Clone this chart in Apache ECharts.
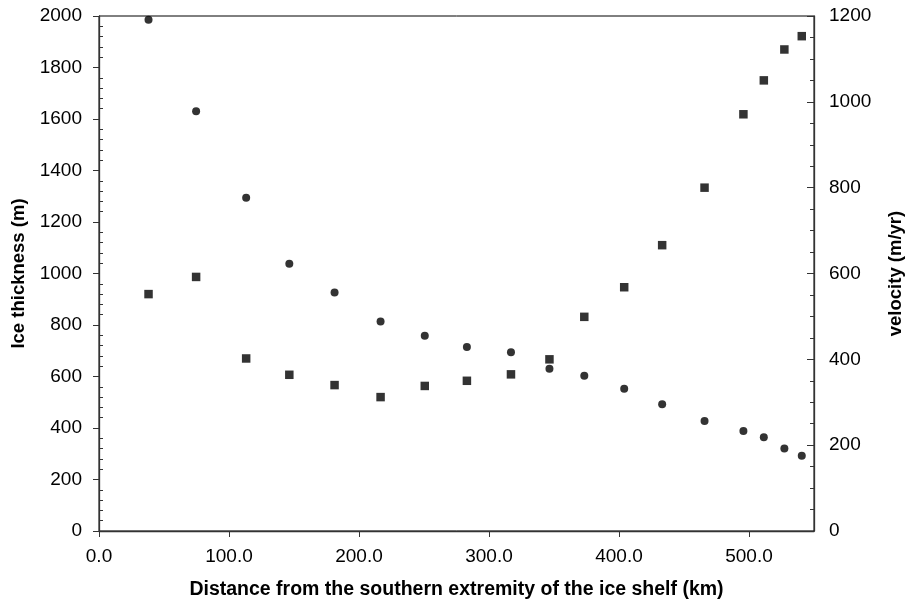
<!DOCTYPE html>
<html>
<head>
<meta charset="utf-8">
<script src="https://cdn.jsdelivr.net/npm/echarts@6/dist/echarts.min.js"></script>
<style>
  html, body { margin: 0; padding: 0; background: #fff; }
  #chart { width: 908px; height: 609px; }
</style>
</head>
<body>
<div id="chart"></div>
<script>
// distance from the southern extremity (km)
const distance = [38.1, 74.7, 113.2, 146.4, 181.2, 216.6, 250.6, 283.0, 316.9, 346.5, 373.3, 404.0, 433.2, 465.8, 495.7, 511.4, 527.2, 540.6]
// ice thickness (m), left axis
const thickness = [1985, 1630, 1294, 1038, 926, 814, 758, 715, 694, 630, 603, 552, 492, 427, 388, 364, 320, 292]
// velocity (m/yr), right axis
const velocity = [552, 592, 402, 364, 340, 312, 338, 350, 365, 400, 499, 568, 666, 800, 971, 1050, 1122, 1153]

const font = 'Liberation Sans, Arial, sans-serif'
const axisColor = '#333'

const chart = echarts.init(document.getElementById('chart'))

const option = {
  animation: false,
  grid: {
    left: 99, right: 94, top: 16, bottom: 78,
    outerBoundsMode: 'none',
    show: true, borderColor: '#000', borderWidth: 1
  },
  xAxis: {
    type: 'value',
    min: 0, max: 550, interval: 100,
    name: 'Distance from the southern extremity of the ice shelf (km)',
    nameLocation: 'middle',
    nameGap: 49,
    nameTextStyle: { fontFamily: font, fontSize: 19.5, fontWeight: 'bold', color: '#000' },
    axisLine: { lineStyle: { color: axisColor, width: 1.3 } },
    axisTick: { length: 6, lineStyle: { color: axisColor } },
    axisLabel: {
      fontFamily: font, fontSize: 19, color: '#000', margin: 16,
      showMaxLabel: false,
      formatter: v => v.toFixed(1)
    },
    splitLine: { show: false }
  },
  yAxis: [
    {
      type: 'value',
      min: 0, max: 2000, interval: 200,
      name: 'Ice thickness (m)',
      nameLocation: 'middle',
      nameRotate: 90,
      nameGap: 71,
      nameTextStyle: { fontFamily: font, fontSize: 18.5, fontWeight: 'bold', color: '#000' },
      axisLine: { show: true, lineStyle: { color: axisColor, width: 1.3 } },
      axisTick: { length: 6, lineStyle: { color: axisColor } },
      minorTick: { show: true, splitNumber: 5, length: -4, lineStyle: { color: axisColor } },
      axisLabel: { fontFamily: font, fontSize: 19, color: '#000', margin: 17, formatter: v => String(v) },
      splitLine: { show: false }
    },
    {
      type: 'value',
      position: 'right',
      min: 0, max: 1200, interval: 200,
      name: 'velocity (m/yr)',
      nameLocation: 'middle',
      nameRotate: 90,
      nameGap: 72,
      nameTextStyle: { fontFamily: font, fontSize: 18.5, fontWeight: 'bold', color: '#000' },
      axisLine: { show: true, lineStyle: { color: axisColor, width: 1.3 } },
      axisTick: { inside: true, length: 7, lineStyle: { color: axisColor } },
      minorTick: { show: true, splitNumber: 4, length: 4, lineStyle: { color: axisColor } },
      axisLabel: { fontFamily: font, fontSize: 19, color: '#000', margin: 15, formatter: v => String(v) },
      splitLine: { show: false }
    }
  ],
  series: [
    {
      name: 'Ice thickness',
      type: 'scatter',
      yAxisIndex: 0,
      symbol: 'circle',
      symbolSize: 8,
      itemStyle: { color: '#000' },
      data: distance.map((d, i) => [d, thickness[i]])
    },
    {
      name: 'velocity',
      type: 'scatter',
      yAxisIndex: 1,
      symbol: 'rect',
      symbolSize: 8.5,
      itemStyle: { color: '#000' },
      data: distance.map((d, i) => [d, velocity[i]])
    }
  ]
}

option && chart.setOption(option)
</script>
</body>
</html>
